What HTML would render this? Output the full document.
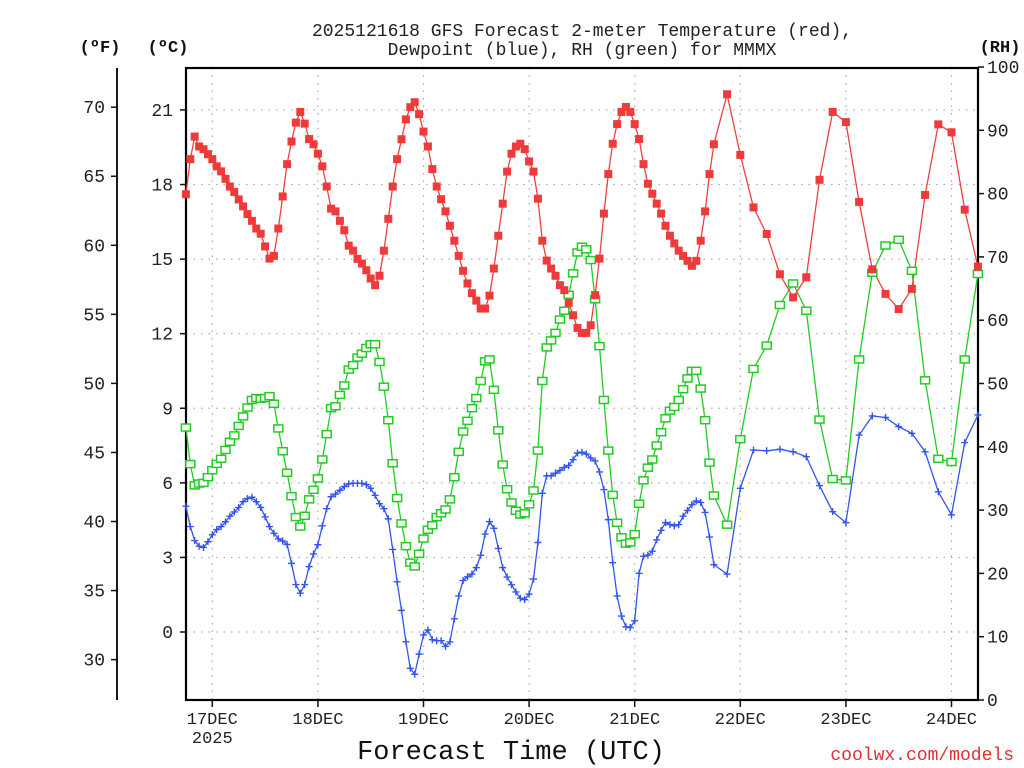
<!DOCTYPE html>
<html><head><meta charset="utf-8"><style>
html,body{margin:0;padding:0;background:#fff;}
svg{display:block;font-family:"Liberation Mono",monospace;}
</style></head><body>
<svg id="chart" width="1024" height="768" viewBox="0 0 1024 768">
<text x="582" y="36" text-anchor="middle" font-size="18" fill="#222">2025121618 GFS Forecast 2-meter Temperature (red),</text>
<text x="582" y="55" text-anchor="middle" font-size="18" fill="#222">Dewpoint (blue), RH (green) for MMMX</text>
<text x="100" y="52" text-anchor="middle" font-size="17" font-weight="bold" fill="#111">(ºF)</text>
<text x="168" y="52" text-anchor="middle" font-size="17" font-weight="bold" fill="#111">(ºC)</text>
<text x="1000" y="52" text-anchor="middle" font-size="17" font-weight="bold" fill="#111">(RH)</text>
<text x="511" y="759" text-anchor="middle" font-size="27" fill="#111">Forecast Time (UTC)</text>
<text x="1014" y="760" text-anchor="end" font-size="18" fill="#e03030">coolwx.com/models</text>
<g id="grid"></g><g id="axes"></g><g id="series"></g>
</svg>
<script>
const hours=[0,1,2,3,4,5,6,7,8,9,10,11,12,13,14,15,16,17,18,19,20,21,22,23,24,25,26,27,28,29,30,31,32,33,34,35,36,37,38,39,40,41,42,43,44,45,46,47,48,49,50,51,52,53,54,55,56,57,58,59,60,61,62,63,64,65,66,67,68,69,70,71,72,73,74,75,76,77,78,79,80,81,82,83,84,85,86,87,88,89,90,91,92,93,94,95,96,97,98,99,100,101,102,103,104,105,106,107,108,109,110,111,112,113,114,115,116,117,118,119,120,123,126,129,132,135,138,141,144,147,150,153,156,159,162,165,168,171,174,177,180];
const tempC=[17.61,19.02,19.93,19.53,19.42,19.22,19.02,18.73,18.53,18.23,17.92,17.70,17.40,17.12,16.81,16.54,16.23,16.02,15.51,15.02,15.13,16.23,17.52,18.82,19.73,20.49,20.92,20.45,19.83,19.62,19.24,18.73,17.92,17.03,16.92,16.54,16.16,15.54,15.34,15.01,14.82,14.55,14.22,13.95,14.33,15.34,16.62,17.92,19.02,19.82,20.62,21.11,21.31,20.83,20.13,19.53,18.62,17.92,17.41,16.92,16.34,15.74,15.13,14.53,14.02,13.63,13.33,13.01,13.01,13.53,14.62,15.94,17.23,18.52,19.24,19.53,19.64,19.42,18.93,18.52,17.43,15.74,14.94,14.62,14.33,13.95,13.75,13.24,12.74,12.23,12.03,12.03,12.34,13.55,15.02,16.83,18.42,19.64,20.43,20.92,21.12,20.92,20.43,19.83,18.82,18.03,17.63,17.23,16.83,16.34,15.94,15.63,15.34,15.13,14.93,14.73,14.93,15.74,16.92,18.42,19.62,21.63,19.19,17.08,16.01,14.39,13.46,14.27,18.19,20.92,20.51,17.3,14.59,13.6,12.99,13.8,17.58,20.42,20.1,16.99,14.7];
const dewC=[5.06,4.24,3.68,3.45,3.40,3.63,3.91,4.12,4.24,4.43,4.66,4.83,5.01,5.24,5.37,5.42,5.24,5.01,4.63,4.24,3.97,3.75,3.66,3.52,2.76,1.91,1.56,1.91,2.63,3.14,3.51,4.27,4.96,5.44,5.55,5.70,5.85,5.96,5.98,5.98,5.98,5.93,5.78,5.50,5.16,4.96,4.55,3.32,2.02,0.87,-0.39,-1.46,-1.70,-0.89,-0.12,0.08,-0.31,-0.35,-0.35,-0.58,-0.40,0.53,1.45,2.07,2.22,2.33,2.59,3.09,3.94,4.44,4.17,3.36,2.59,2.21,1.90,1.61,1.36,1.30,1.52,2.13,3.60,5.58,6.28,6.28,6.39,6.50,6.62,6.70,6.93,7.20,7.23,7.16,7.00,6.88,6.44,5.73,4.52,2.79,1.45,0.64,0.21,0.18,0.45,2.36,3.05,3.09,3.25,3.71,4.09,4.40,4.32,4.27,4.32,4.66,4.89,5.12,5.27,5.21,4.81,3.82,2.71,2.33,5.78,7.32,7.29,7.35,7.25,7.05,5.89,4.84,4.40,7.92,8.69,8.63,8.26,7.99,7.25,5.64,4.71,7.62,8.73];
const rhPct=[43.05,37.27,33.9,34.2,34.3,35.2,36.3,37.3,38.1,39.5,40.8,41.8,43.3,44.8,46.2,47.4,47.7,47.6,47.7,48.0,46.8,42.9,39.3,35.9,32.2,28.9,27.4,29.1,31.7,33.2,35.0,38.0,42.0,46.1,46.4,48.2,49.7,52.2,52.9,54.1,54.7,55.6,56.2,56.2,53.4,49.5,44.2,37.4,31.9,27.9,24.3,21.7,21.1,23.1,25.5,26.9,27.6,28.9,29.5,30.1,31.7,35.2,39.2,42.4,44.1,46.1,47.7,50.4,53.5,53.8,49.0,42.6,37.2,33.3,31.2,29.9,29.3,29.5,30.9,33.1,39.4,50.4,55.7,56.8,58.0,60.1,61.5,64.0,67.4,70.7,71.6,71.2,69.5,63.3,55.9,47.4,39.4,32.4,28.0,25.7,24.7,24.9,26.2,31.0,34.7,36.7,38.0,40.2,42.3,44.5,45.7,46.3,47.4,49.1,50.8,52.0,52.0,49.2,44.2,37.5,32.3,27.7,41.2,52.3,56.0,62.4,65.8,61.5,44.3,34.9,34.7,53.8,67.5,71.8,72.7,67.8,50.5,38.1,37.6,53.8,67.3];
const cTicks=[0,3,6,9,12,15,18,21];
const fTicks=[30,35,40,45,50,55,60,65,70];
const rhTicks=[0,10,20,30,40,50,60,70,80,90,100];
const dayHours=[6,30,54,78,102,126,150,174];
const dayLabels=["17DEC","18DEC","19DEC","20DEC","21DEC","22DEC","23DEC","24DEC"];

const L=186,R=978,T=68,B=700;
const NS="http://www.w3.org/2000/svg";
function xH(h){return 185.9+4.4*h;}
function yC(t){return 632-t*24.86;}
function yF(f){return yC((f-32)*5/9);}
function yR(r){return B-r*6.33;}
function mk(tag,attrs,parent){const e=document.createElementNS(NS,tag);for(const k in attrs)e.setAttribute(k,attrs[k]);parent.appendChild(e);return e;}
const grid=document.getElementById('grid'),axes=document.getElementById('axes'),ser=document.getElementById('series');

dayHours.forEach((h,i)=>{
  const x=xH(h);
  const g=mk('line',{x1:x,x2:x,y1:T,y2:B,stroke:'#aaa','stroke-width':1.2,'stroke-dasharray':'1.5 6'},grid);
  
  
  const t=mk('line',{x1:x,x2:x,y1:B,y2:B+7,stroke:'#111','stroke-width':1.5},axes);
  
  
  const lb=mk('text',{x:x,y:724,'text-anchor':'middle','font-size':17,fill:'#222'},axes);
  lb.textContent=dayLabels[i];
  
  
});
const yr=mk('text',{x:xH(6),y:743,'text-anchor':'middle','font-size':17,fill:'#222'},axes);
yr.textContent="2025";



cTicks.forEach(c=>{
  const y=yC(c);
  const g=mk('line',{x1:L,x2:R,y1:y,y2:y,stroke:'#aaa','stroke-width':1.2,'stroke-dasharray':'1.5 6'},grid);
  
  
  const t=mk('line',{x1:L-6,x2:L,y1:y,y2:y,stroke:'#111','stroke-width':1.5},axes);
  
  
  const lb=mk('text',{x:173,y:y+6,'text-anchor':'end','font-size':18,fill:'#222'},axes);
  lb.textContent=c;
  
  
});
fTicks.forEach(f=>{
  const y=yF(f);
  const t=mk('line',{x1:111,x2:117,y1:y,y2:y,stroke:'#111','stroke-width':1.5},axes);
  
  
  const lb=mk('text',{x:105,y:y+6,'text-anchor':'end','font-size':18,fill:'#222'},axes);
  lb.textContent=f;
  
  
});
rhTicks.forEach(r=>{
  const y=yR(r);
  const t=mk('line',{x1:R,x2:R+6,y1:y,y2:y,stroke:'#111','stroke-width':1.5},axes);
  
  
  const lb=mk('text',{x:987,y:y+6,'text-anchor':'start','font-size':18,fill:'#222'},axes);
  lb.textContent=r;
  
  
});
const fr=mk('rect',{x:L,y:T,width:R-L,height:B-T,fill:'none',stroke:'#000','stroke-width':2.2},axes);


const fa=mk('line',{x1:117,x2:117,y1:T,y2:B,stroke:'#000','stroke-width':1.8},axes);



function line(vals,yf,color,name){
  const p=mk('polyline',{points:vals.map((v,i)=>xH(hours[i]).toFixed(1)+','+yf(v).toFixed(1)).join(' '),fill:'none',stroke:color,'stroke-width':1.3},ser);
  
  
}
line(rhPct,yR,'#22cc22','rh-line');
line(dewC,yC,'#3355ee','dewpoint-line');
line(tempC,yC,'#ee4040','temperature-line');
rhPct.forEach((v,i)=>{
  const m=mk('rect',{x:xH(hours[i])-4.5,y:yR(v)-3.5,width:9,height:7,fill:'#fff',stroke:'#22cc22','stroke-width':1.5},ser);
  
  
});
dewC.forEach((v,i)=>{
  const x=xH(hours[i]),y=yC(v);
  const m=mk('path',{d:`M${x-3.5},${y}H${x+3.5}M${x},${y-3.5}V${y+3.5}`,stroke:'#3355ee','stroke-width':1.4,fill:'none'},ser);
  
  
});
tempC.forEach((v,i)=>{
  const m=mk('rect',{x:xH(hours[i])-4,y:yC(v)-4,width:8,height:8,fill:'#ee3a3a'},ser);
  
  
});
</script>
</body></html>
